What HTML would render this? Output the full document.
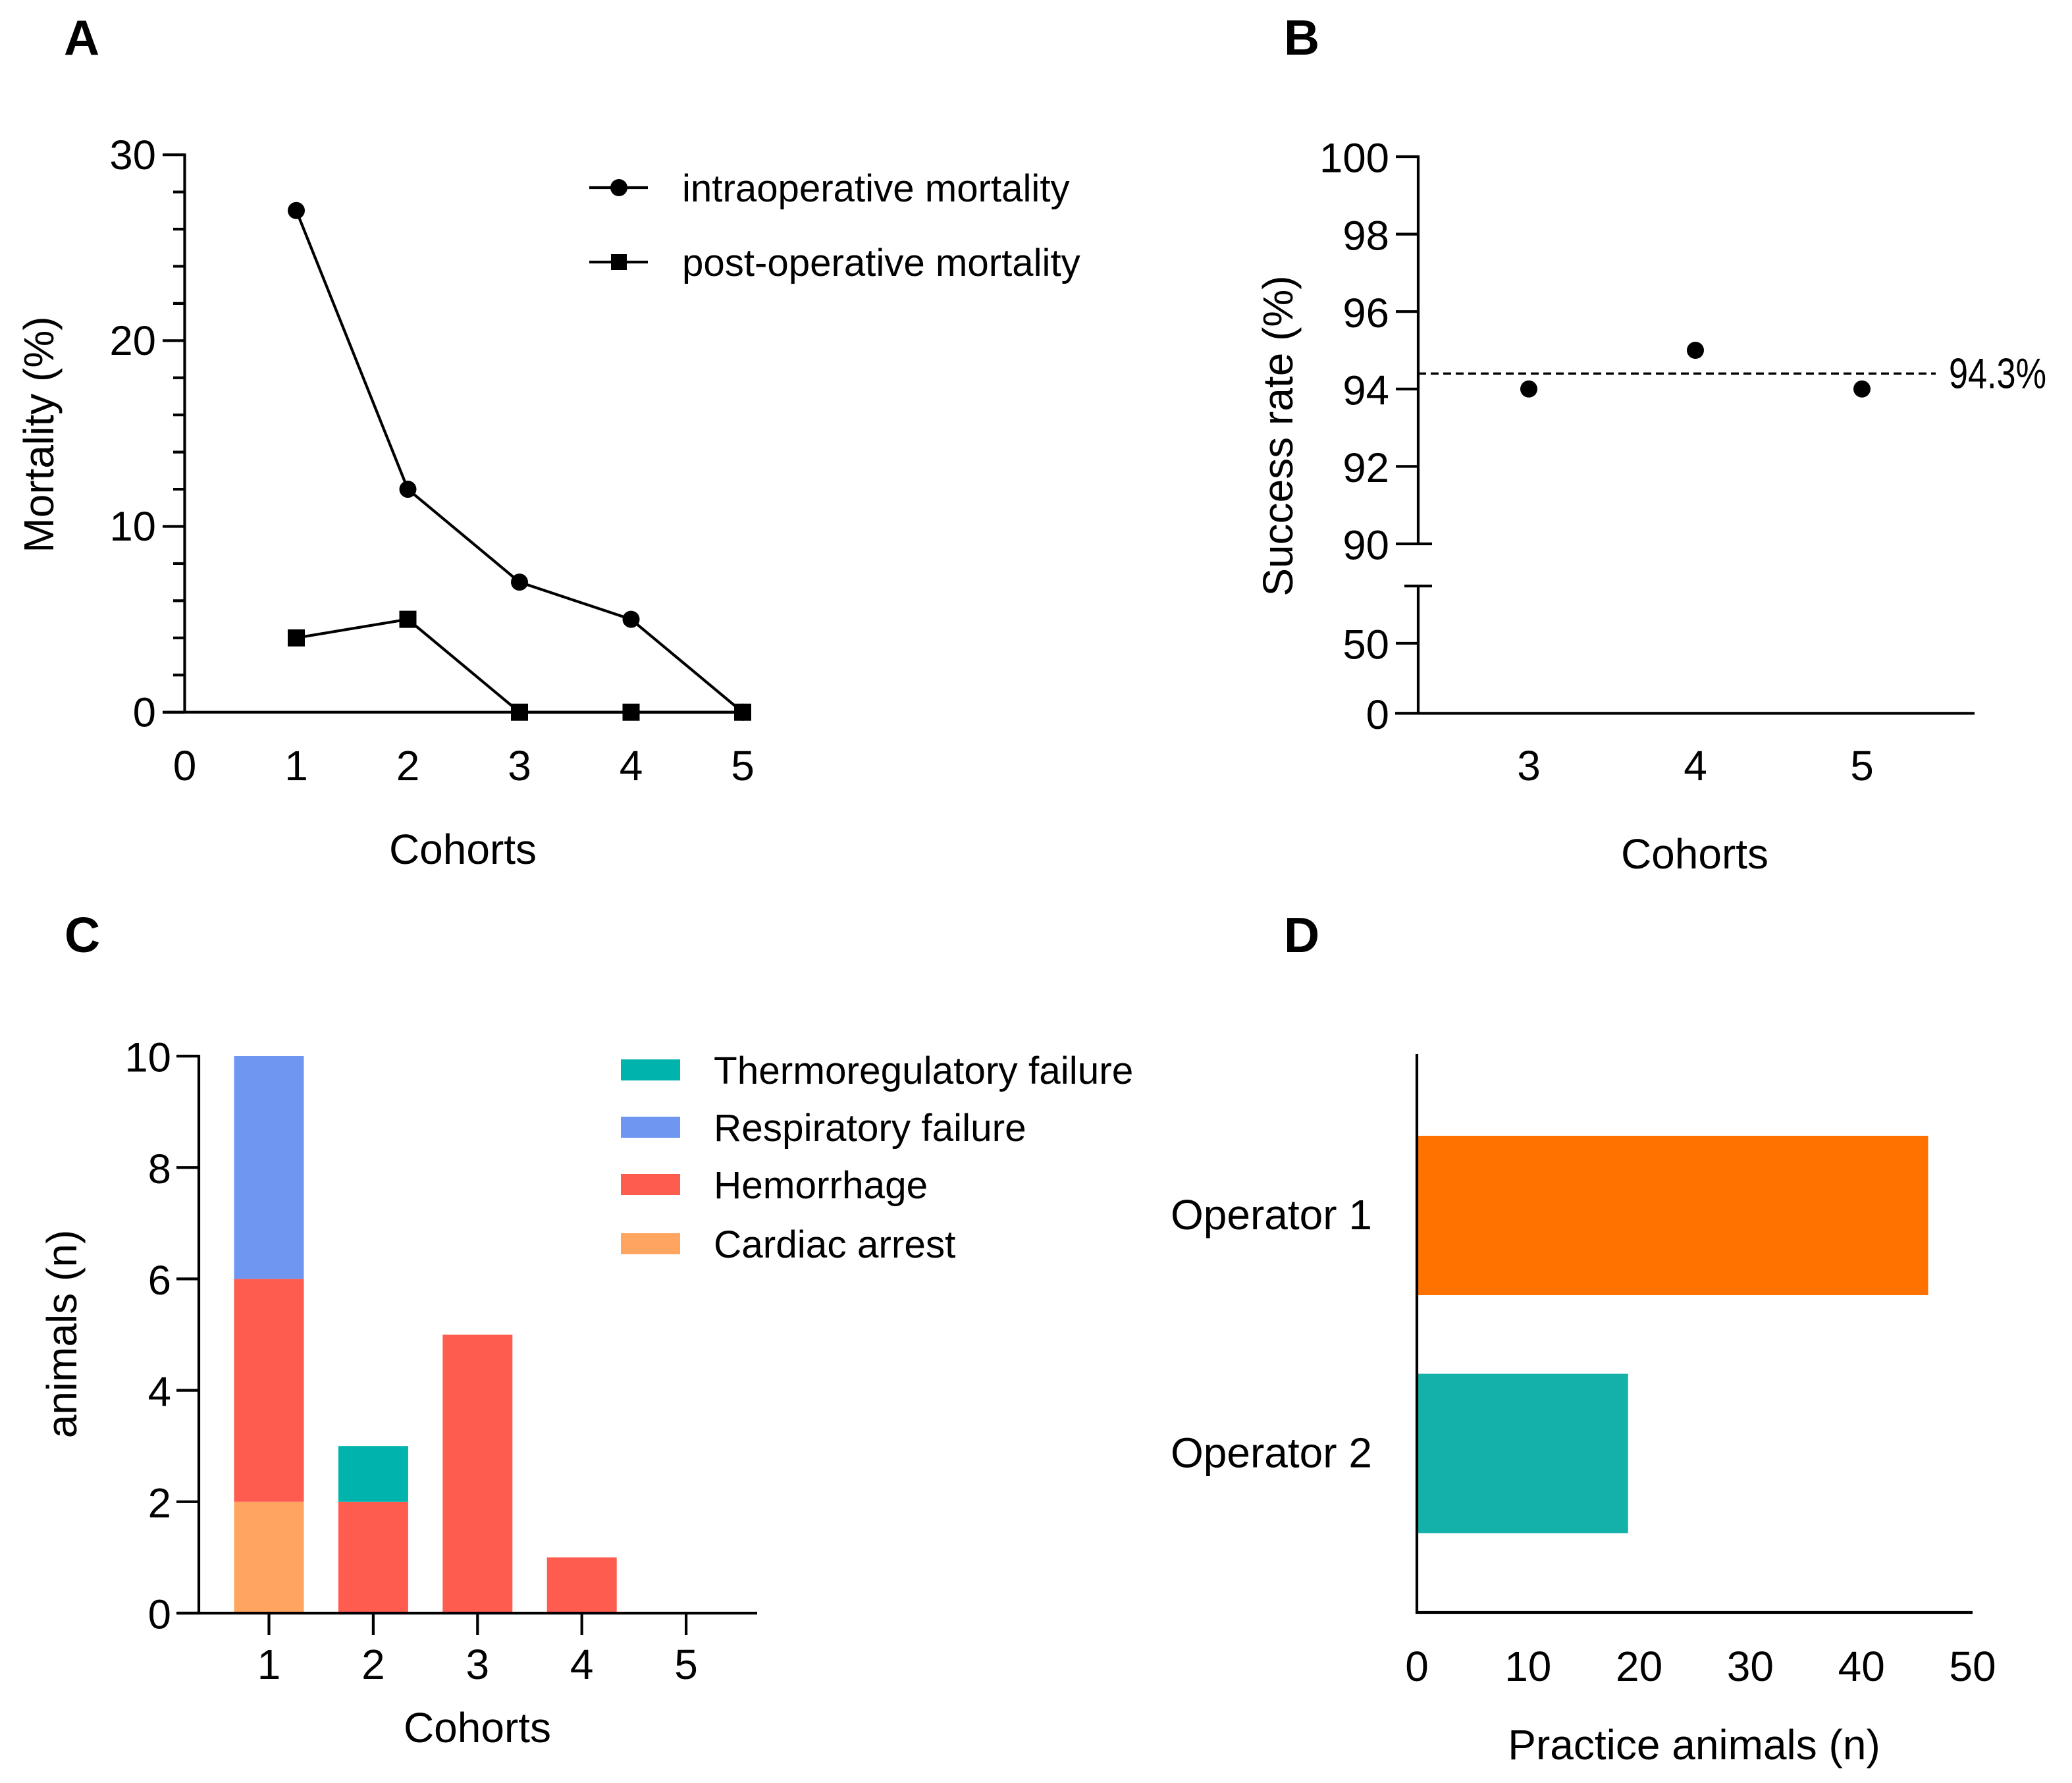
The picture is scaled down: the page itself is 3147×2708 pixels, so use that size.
<!DOCTYPE html>
<html lang="en">
<head>
<meta charset="utf-8">
<title>Mortality, success rate, causes of death and practice animals</title>
<style>
html,body{margin:0;padding:0;background:#fff;}
svg{display:block;font-family:"Liberation Sans",Arial,sans-serif;fill:#000;}
</style>
</head>
<body>
<svg id="fig" xmlns="http://www.w3.org/2000/svg" width="3147" height="2708" viewBox="0 0 3147 2708">
  <rect width="3147" height="2708" fill="#fff"/>
  <text x="97" y="83" font-size="75" font-weight="700">A</text>
  <text x="1950" y="83" font-size="75" font-weight="700">B</text>
  <text x="98" y="1446" font-size="75" font-weight="700">C</text>
  <text x="1950" y="1446" font-size="75" font-weight="700">D</text>

  <text x="703" y="1312" font-size="64" text-anchor="middle">Cohorts</text>
  <text transform="translate(81 660) rotate(-90)" font-size="64" text-anchor="middle">Mortality (%)</text>
  <text x="2574" y="1319" font-size="64" text-anchor="middle">Cohorts</text>
  <text transform="translate(1963 662) rotate(-90)" font-size="64" text-anchor="middle">Success rate (%)</text>
  <text x="725" y="2646" font-size="64" text-anchor="middle">Cohorts</text>
  <text transform="translate(116 2026) rotate(-90)" font-size="64" text-anchor="middle">animals (n)</text>
  <text x="2573" y="2672" font-size="64" text-anchor="middle">Practice animals (n)</text>
</svg>
<script>
// Panel A data
const aCohorts = [1, 2, 3, 4, 5];
const aIntraoperative = [27, 12, 7, 5, 0];
const aPostoperative = [4, 5, 0, 0, 0];
const aXTicks = [0, 1, 2, 3, 4, 5];
const aYMajor = [0, 10, 20, 30];
const aYMinor = [2, 4, 6, 8, 12, 14, 16, 18, 22, 24, 26, 28];
const aLegend = ["intraoperative mortality", "post-operative mortality"];

// Panel B data
const bCohorts = [3, 4, 5];
const bSuccess = [94, 95, 94];
const bMeanLine = 94.4;
const bMeanLabel = "94.3%";
const bYTicks = [0, 50, 90, 92, 94, 96, 98, 100];

// Panel C data
const cCohorts = [1, 2, 3, 4, 5];
const cCardiac = [2, 0, 0, 0, 0];
const cHemorrhage = [4, 2, 5, 1, 0];
const cRespiratory = [4, 0, 0, 0, 0];
const cThermo = [0, 1, 0, 0, 0];
const cYTicks = [0, 2, 4, 6, 8, 10];
const cLegend = ["Thermoregulatory failure", "Respiratory failure", "Hemorrhage", "Cardiac arrest"];

// Panel D data
const dOperators = ["Operator 1", "Operator 2"];
const dAnimals = [46, 19];
const dXTicks = [0, 10, 20, 30, 40, 50];

// Axis functions
const xA = v => 280.5 + v * 169.5;
const yA = v => 1081.7 - v * 28.22;
const xB = c => 2322 + (c - 3) * 253;
const yB = v => v >= 90 ? 826 - (v - 90) * 58.8 : 1083.4 - v * 2.128;
const xC = c => 408.5 + (c - 1) * 158.4;
const yC = v => 2450 - v * 84.6;
const xD = v => 2152 + v * 16.88;
const yD = i => 1846 + i * 361.5;

const svg = document.getElementById('fig');
const NS = 'http://www.w3.org/2000/svg';

function add(tag, props, name) {
  const el = document.createElementNS(NS, tag);
  for (const k in props) el.setAttribute(k, props[k]);
  
  
  svg.appendChild(el);
  return el;
}
function line(x1, y1, x2, y2, name, w) {
  return add('line', {x1, y1, x2, y2, stroke: '#000', 'stroke-width': w || 4.2}, name);
}
function label(x, cy, str, anchor, size, name) {
  const el = add('text', {x, y: cy + size * 0.358, 'font-size': size, 'text-anchor': anchor}, name);
  el.textContent = str;
  return el;
}
function dot(x, y, name, r) {
  return add('circle', {cx: x, cy: y, r: r || 13}, name);
}
function square(x, y, name, s) {
  s = s || 26;
  return add('rect', {x: x - s / 2, y: y - s / 2, width: s, height: s}, name);
}
function polyline(pts, name) {
  return add('polyline', {points: pts.join(' '), fill: 'none', stroke: '#000', 'stroke-width': 4.2}, name);
}

// ---------- Panel A ----------
line(xA(0), yA(30) - 2, xA(0), yA(0), 'panel-a-y-axis');
line(247, yA(0), xA(5), yA(0), 'panel-a-x-axis');
aYMajor.forEach(v => {
  line(247, yA(v), xA(0), yA(v), 'panel-a-y-tick-' + v);
  label(237, yA(v) - 1, String(v), 'end', 63.5, 'panel-a-y-tick-label-' + v);
});
aYMinor.forEach(v => {
  line(263, yA(v), xA(0), yA(v), 'panel-a-y-minor-tick-' + v);
});
aXTicks.forEach(v => {
  label(xA(v), 1162, String(v), 'middle', 64, 'panel-a-x-tick-label-' + v);
});
polyline(aCohorts.map((c, i) => xA(c) + ',' + yA(aIntraoperative[i])), 'intraoperative-line');
polyline(aCohorts.map((c, i) => xA(c) + ',' + yA(aPostoperative[i])), 'postoperative-line');
aCohorts.forEach((c, i) => {
  dot(xA(c), yA(aIntraoperative[i]), 'intraoperative-point-' + c);
  square(xA(c), yA(aPostoperative[i]), 'postoperative-point-' + c);
});
[285, 398].forEach((y, i) => {
  line(895, y, 984, y, 'panel-a-legend-line-' + (i + 1));
  if (i === 0) dot(940, y, 'panel-a-legend-circle');
  else square(940, y, 'panel-a-legend-square', 24);
  label(1036, y, aLegend[i], 'start', 58.2, 'panel-a-legend-label-' + (i + 1));
});

// ---------- Panel B ----------
line(2154, yB(100) - 2, 2154, yB(90), 'panel-b-y-axis-upper');
line(2154, 890, 2154, yB(0), 'panel-b-y-axis-lower');
line(2119, yB(0), 2999, yB(0), 'panel-b-x-axis');
line(2133, 890, 2175, 890, 'panel-b-axis-break-cap');
bYTicks.forEach(v => {
  line(2120, yB(v), v === 90 ? 2175 : 2154, yB(v), 'panel-b-y-tick-' + v);
  label(2110, yB(v) + 1, String(v), 'end', 63.5, 'panel-b-y-tick-label-' + v);
});
bCohorts.forEach((c, i) => {
  label(xB(c), 1162, String(c), 'middle', 64, 'panel-b-x-tick-label-' + c);
  dot(xB(c), yB(bSuccess[i]), 'success-point-' + c);
});
add('line', {x1: 2154, y1: yB(bMeanLine), x2: 2940, y2: yB(bMeanLine), stroke: '#000', 'stroke-width': 3.4, 'stroke-dasharray': '12 7'}, 'mean-success-line');
add('text', {x: 2960, y: yB(bMeanLine) + 22, 'font-size': 65, textLength: 148, lengthAdjust: 'spacingAndGlyphs'}, 'mean-success-label').textContent = bMeanLabel;

// ---------- Panel C ----------
const cSeries = [
  {vals: cCardiac, color: '#FFA55F', key: 'cardiac-arrest'},
  {vals: cHemorrhage, color: '#FF5C50', key: 'hemorrhage'},
  {vals: cRespiratory, color: '#6F97F2', key: 'respiratory-failure'},
  {vals: cThermo, color: '#00B3AC', key: 'thermoregulatory-failure'}
];
cCohorts.forEach((c, i) => {
  let base = 0;
  cSeries.forEach(s => {
    const v = s.vals[i];
    if (v > 0) {
      add('rect', {x: xC(c) - 53, y: yC(base + v), width: 106, height: yC(base) - yC(base + v), fill: s.color}, 'bar-' + s.key + '-cohort-' + c);
    }
    base += v;
  });
});
line(302, yC(10) - 2, 302, yC(0), 'panel-c-y-axis');
line(268, yC(0), 1150, yC(0), 'panel-c-x-axis');
cYTicks.forEach(v => {
  line(268, yC(v), 302, yC(v), 'panel-c-y-tick-' + v);
  label(260, yC(v) + 1, String(v), 'end', 63.5, 'panel-c-y-tick-label-' + v);
});
cCohorts.forEach(c => {
  line(xC(c), yC(0), xC(c), yC(0) + 33, 'panel-c-x-tick-' + c);
  label(xC(c), 2527, String(c), 'middle', 64, 'panel-c-x-tick-label-' + c);
});
[1624, 1711, 1798, 1888].forEach((y, i) => {
  add('rect', {x: 943, y: y - 15, width: 90, height: 32, fill: cSeries[3 - i].color}, 'panel-c-legend-swatch-' + cSeries[3 - i].key);
  label(1084, y + 1, cLegend[i], 'start', 58.5, 'panel-c-legend-label-' + cSeries[3 - i].key);
});

// ---------- Panel D ----------
const dColors = ['#FF7200', '#14B1A9'];
dOperators.forEach((op, i) => {
  add('rect', {x: 2152, y: yD(i) - 121, width: xD(dAnimals[i]) - xD(0), height: 242, fill: dColors[i]}, 'bar-operator-' + (i + 1));
  label(1778, yD(i) - 2, op, 'start', 64, 'operator-label-' + (i + 1));
});
line(2152, 1601, 2152, 2451, 'panel-d-y-axis');
line(2150, 2449, xD(50), 2449, 'panel-d-x-axis');
dXTicks.forEach(v => {
  label(xD(v), 2530, String(v), 'middle', 64, 'panel-d-x-tick-label-' + v);
});
</script>
</body>
</html>
